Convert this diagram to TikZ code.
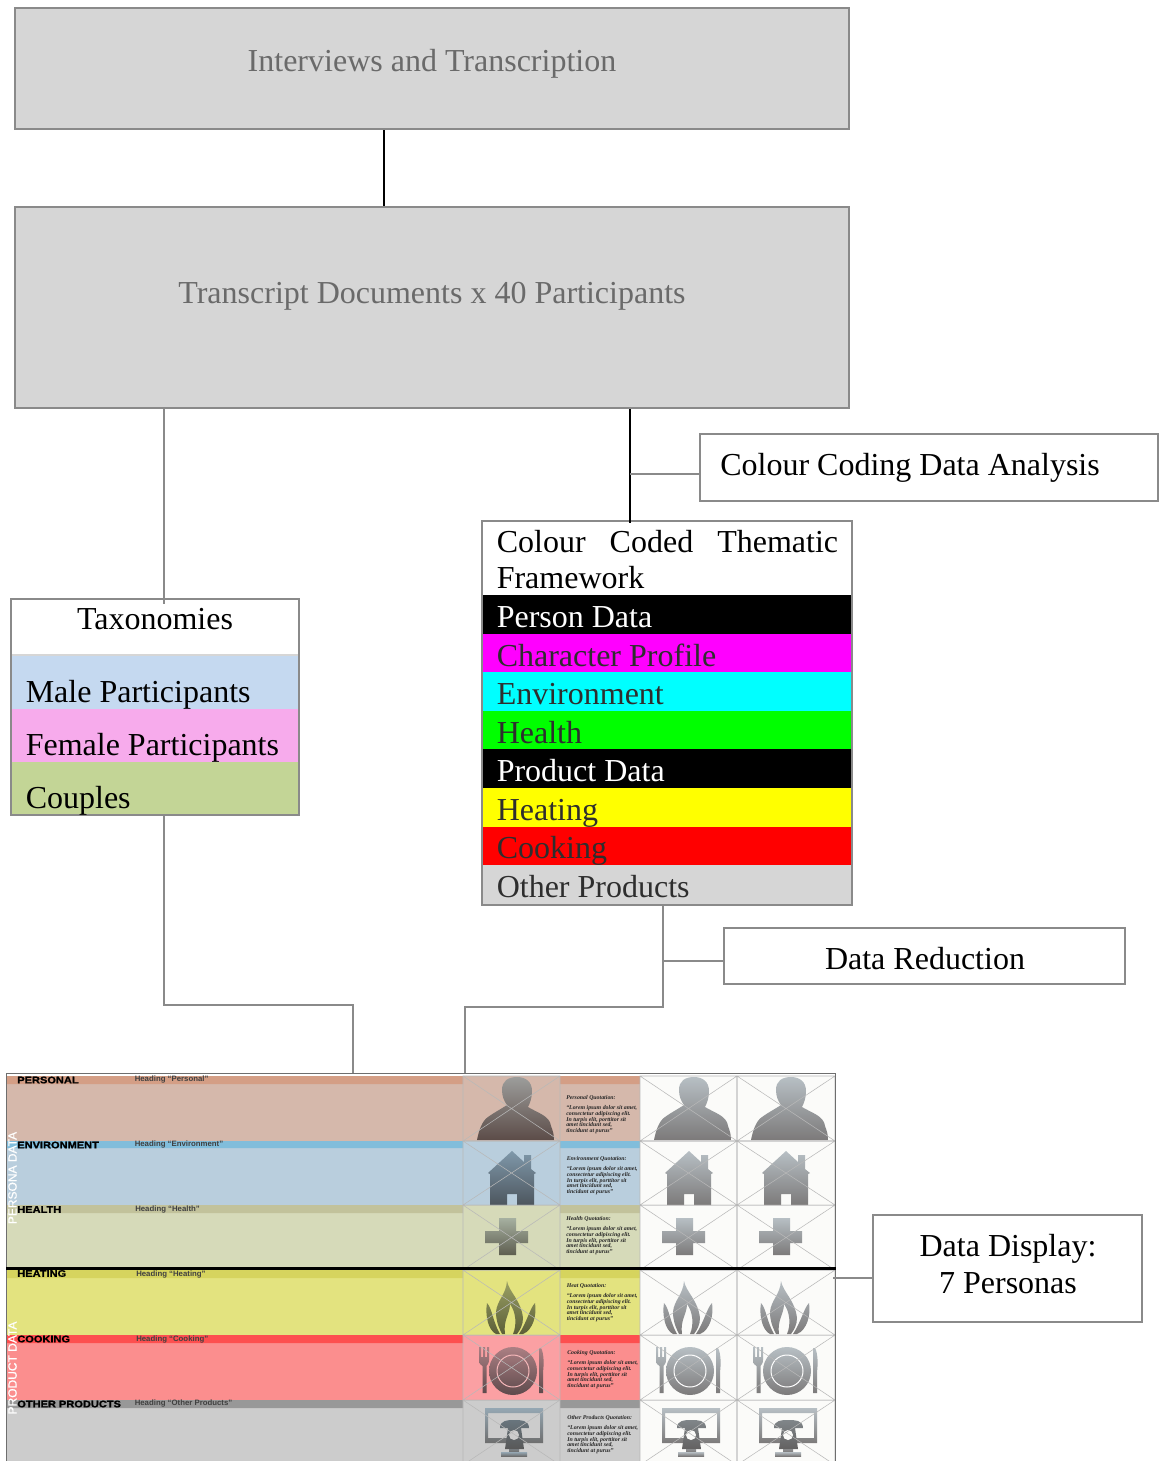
\documentclass[tikz,border=0pt]{standalone}
\usepackage{fontspec}
\setmainfont{Liberation Serif}
\newfontfamily\hsans{Liberation Sans}[BoldFeatures={FakeBold=1}]
\newfontfamily\hsansp{Liberation Sans}
\newfontfamily\hsansv{Liberation Sans}[FakeBold=0.5]
\definecolor{boxgray}{HTML}{8A8A8A}
\definecolor{fillgray}{HTML}{D6D6D6}
\definecolor{txtgray}{HTML}{6A6A6A}
\definecolor{darktxt}{HTML}{2E2E2E}
\definecolor{gridc}{HTML}{B8B8B8}
\definecolor{cellw}{HTML}{FBFBF9}
\definecolor{taxblue}{HTML}{C5D9F0}
\definecolor{taxpink}{HTML}{F7ABEC}
\definecolor{taxgreen}{HTML}{C3D596}
\definecolor{fwmag}{HTML}{FF00FF}
\definecolor{fwcyan}{HTML}{00FFFF}
\definecolor{fwgreen}{HTML}{00FF00}
\definecolor{fwyel}{HTML}{FFFF00}
\definecolor{fwred}{HTML}{FF0000}
\definecolor{bodyA}{HTML}{D5B8AB}
\definecolor{bodyB}{HTML}{B9CEDD}
\definecolor{bodyC}{HTML}{D6DAB9}
\definecolor{bodyD}{HTML}{E3E37F}
\definecolor{bodyE}{HTML}{FB8E8E}
\definecolor{bodyF}{HTML}{CCCCCC}
\definecolor{bodyEi}{HTML}{FBA0A3}
\definecolor{headAc}{HTML}{D49E85}
\definecolor{headBc}{HTML}{81BDDB}
\definecolor{headCc}{HTML}{C2C29B}
\definecolor{headDc}{HTML}{D6D45E}
\definecolor{headEc}{HTML}{FD4F4F}
\definecolor{headFc}{HTML}{989898}
\definecolor{frameC}{HTML}{6E6E6E}
\definecolor{iwT}{HTML}{B7BFC4}
\definecolor{iwB}{HTML}{7C7A7A}
\definecolor{i1T}{HTML}{9C9D9B}
\definecolor{i1B}{HTML}{5C4C48}
\definecolor{i2T}{HTML}{7F98AA}
\definecolor{i2B}{HTML}{4D565E}
\definecolor{i3T}{HTML}{A6B0A0}
\definecolor{i3B}{HTML}{5E5E50}
\definecolor{i4T}{HTML}{9AA064}
\definecolor{i4B}{HTML}{5C5F38}
\definecolor{i5T}{HTML}{AB7F83}
\definecolor{i5B}{HTML}{5E4A4C}
\definecolor{i5R}{HTML}{F6B8BA}
\definecolor{i6T}{HTML}{95A7B3}
\definecolor{i6B}{HTML}{6E6E6E}
\tikzset{
  x=0.75pt,y=-0.75pt,
  topbox/.style={draw=boxgray,fill=fillgray,line width=1.5pt,inner sep=0pt},
  whitebox/.style={draw=boxgray,fill=white,line width=1.5pt,inner sep=0pt},
  framebox/.style={draw=boxgray,line width=1.5pt,inner sep=0pt},
  bigtxt/.style={font=\fontsize{24pt}{28pt}\selectfont,inner sep=0pt,text=black},
  rowtxt/.style={bigtxt,anchor=base west},
  graylink/.style={draw=boxgray,line width=1.5pt},
  darklink/.style={draw=black,line width=1.5pt},
  headA/.style={font=\hsans\bfseries\fontsize{7.2pt}{8pt}\selectfont,inner sep=0pt,anchor=west,xscale=1.15,text=black},
  headB/.style={font=\hsansp\bfseries\fontsize{5.85pt}{6pt}\selectfont,inner sep=0pt,anchor=west,text=black!75},
  vlabel/.style={font=\hsansv\fontsize{9pt}{9pt}\selectfont,inner sep=0pt,rotate=90,text=white},
  quotetxt/.style={font=\bfseries\itshape\fontsize{4.4pt}{4.3pt}\selectfont,inner sep=0pt,anchor=north west,align=left,text=black!85}
}
\newcommand{\icoPerson}[4]{\begin{scope}[shift={(#1,#2)}]
 \shade[top color=#3,bottom color=#4] (39,14) .. controls (39,5) and (45,1) .. (54,1) .. controls (63,1) and (69,6) .. (69,15) .. controls (69,22) and (67,27) .. (65,31) .. controls (75,37) and (87,40) .. (88,50) .. controls (90,55) and (91,59) .. (91,64) -- (14,64) .. controls (16,54) and (19,45) .. (25,41) .. controls (32,36) and (38,33) .. (44,29) .. controls (41,25) and (39,20) .. (39,14) -- cycle;
\end{scope}}
\newcommand{\icoHouse}[4]{\begin{scope}[shift={(#1,#2)}]
 \shade[top color=#3,bottom color=#4,even odd rule] (25,32) -- (49,10) -- (61,21) -- (61,14) -- (68,14) -- (68,28) -- (73,32) -- (71,33) -- (71,64) -- (54,64) -- (54,53) -- (44,53) -- (44,64) -- (27,64) -- (27,33) -- cycle;
\end{scope}}
\newcommand{\icoCross}[4]{\begin{scope}[shift={(#1,#2)}]
 \shade[top color=#3,bottom color=#4] (36,13) -- (53,13) -- (53,26) -- (65,26) -- (65,38) -- (53,38) -- (53,50) -- (36,50) -- (36,38) -- (22,38) -- (22,26) -- (36,26) -- cycle;
\end{scope}}
\newcommand{\icoFlame}[4]{\begin{scope}[shift={(#1,#2)}]
 \shade[top color=#3,bottom color=#4]
 (44,11) .. controls (46,22) and (58,30) .. (60,48) .. controls (60,55) and (57,60) .. (54,64) -- (50,64) .. controls (54,55) and (53,42) .. (47,34) .. controls (47,44) and (40,50) .. (42,64) -- (39,64) .. controls (35,56) and (33,50) .. (33,42) .. controls (34,30) and (43,25) .. (44,11) -- cycle
 (24,33) .. controls (29,38) and (30,52) .. (37,64) -- (33,64) .. controls (25,60) and (22,45) .. (24,33) -- cycle
 (72,33) .. controls (67,38) and (64,52) .. (56,64) -- (60,64) .. controls (70,60) and (74,45) .. (72,33) -- cycle;
\end{scope}}
\newcommand{\icoPlate}[5]{\begin{scope}[shift={(#1,#2)}]
 \shade[top color=#3,bottom color=#4] (50,36) circle[radius=24];
 \draw[#5,line width=0.75pt] (50,36) circle[radius=16];
 \shade[top color=#3,bottom color=#4] (16,12) -- (18,12) -- (18,22) -- (20,22) -- (20,12) -- (22,12) -- (22,22) -- (24,22) -- (24,12) -- (26,12) -- (26,25) .. controls (26,29) and (24,30) .. (23.5,31) -- (23.5,58) -- (19.5,58) -- (19.5,31) .. controls (18,30) and (16,29) .. (16,25) -- cycle;
 \shade[top color=#3,bottom color=#4] (78,13) .. controls (81,18) and (81,30) .. (80,37) -- (80,58) -- (76,58) -- (76,13) -- cycle;
\end{scope}}
\newcommand{\icoPhone}[5]{\begin{scope}[shift={(#1,#2)}]
 \shade[top color=#3,bottom color=#4,even odd rule] (22,8) rectangle (80,43) (25,13) rectangle (77,38);
 \shade[top color=#3,bottom color=#4] (46,43) rectangle (56,52);
 \shade[top color=#3,bottom color=#4] (38,52) rectangle (64,56);
 \shade[top color=#3!70!black,bottom color=#4!80!black] (37,28) .. controls (37,20) and (45,20) .. (51,20) .. controls (58,20) and (66,20) .. (66,28) -- (58,28) -- (61,49) -- (42,49) -- (45,28) -- cycle;
 \fill[#5] (51,35) circle[radius=5];
\end{scope}}
\newcommand{\crosscell}[4]{\draw[gridc,line width=0.4pt] (#1,#3) rectangle (#2,#4) (#1,#3) -- (#2,#4) (#1,#4) -- (#2,#3);}
\newcommand{\quoteblock}[3]{\node[quotetxt] (q#3) at (#1,#2) {#3 Quotation:\\[3.4pt]\textquotedblleft Lorem ipsum dolor sit amet,\\consectetur adipiscing elit.\\In turpis elit, porttitor sit\\amet tincidunt sed,\\tincidunt at purus\textquotedblright};}
\begin{document}
\begin{tikzpicture}
\useasboundingbox (0,0) rectangle (1163,1461);
\clip (0,0) rectangle (1163,1461);
\fill[white] (0,0) rectangle (1163,1461);

% ---------- top boxes
\node[topbox,minimum width=625.5pt,minimum height=90.75pt] (interviews) at (432,68.5) {};
\node[topbox,minimum width=625.5pt,minimum height=150.75pt] (transcript) at (432,307.5) {};
\node[bigtxt,text=txtgray,anchor=base] (interviewsT) at (432,71) {Interviews and Transcription};
\node[bigtxt,text=txtgray,anchor=base] (transcriptT) at (432,303) {Transcript Documents x 40 Participants};

% ---------- taxonomies
\fill[white] (11,599) rectangle (299,654);
\fill[fillgray] (11,654) rectangle (299,656);
\fill[taxblue] (11,656) rectangle (299,709);
\fill[taxpink] (11,709) rectangle (299,762);
\fill[taxgreen] (11,762) rectangle (299,815);
\node[framebox,minimum width=216pt,minimum height=162pt] (taxon) at (155,707) {};
\node[bigtxt,anchor=base] (taxonT) at (155,629) {Taxonomies};
\node[rowtxt] (male) at (25.5,702) {Male Participants};
\node[rowtxt] (female) at (25.5,755) {Female Participants};
\node[rowtxt] (couples) at (25.5,808) {Couples};

% ---------- framework
\fill[white] (482,521) rectangle (852,595);
\fill[black] (482,595) rectangle (852,634);
\fill[fwmag] (482,634) rectangle (852,672);
\fill[fwcyan] (482,672) rectangle (852,711);
\fill[fwgreen] (482,711) rectangle (852,749);
\fill[black] (482,749) rectangle (852,788);
\fill[fwyel] (482,788) rectangle (852,827);
\fill[fwred] (482,827) rectangle (852,865);
\fill[fillgray] (482,865) rectangle (852,905);
\node[framebox,minimum width=277.5pt,minimum height=288pt] (frame) at (667,713) {};
\node[rowtxt] (fwA) at (496.5,552) {\hbox to 256pt{Colour\hfil Coded\hfil Thematic}};
\node[rowtxt] (fwB) at (496.5,588) {Framework};
\node[rowtxt,text=white] (fw1) at (496.5,627) {Person Data};
\node[rowtxt,text=darktxt] (fw2) at (496.5,666) {Character Profile};
\node[rowtxt,text=darktxt] (fw3) at (496.5,704) {Environment};
\node[rowtxt,text=darktxt] (fw4) at (496.5,743) {Health};
\node[rowtxt,text=white] (fw5) at (496.5,781) {Product Data};
\node[rowtxt,text=darktxt] (fw6) at (496.5,820) {Heating};
\node[rowtxt,text=darktxt] (fw7) at (496.5,858) {Cooking};
\node[rowtxt,text=darktxt] (fw8) at (496.5,897) {Other Products};

% ---------- side boxes
\node[whitebox,minimum width=343.5pt,minimum height=50.25pt] (coding) at (929,467.5) {};
\node[rowtxt] (codingT) at (720,475) {Colour Coding Data Analysis};
\node[whitebox,minimum width=300.75pt,minimum height=42pt] (reduction) at (924.5,956) {};
\node[bigtxt,anchor=base] (reductionT) at (925,969) {Data Reduction};
\node[whitebox,minimum width=201.75pt,minimum height=80.25pt] (displaybox) at (1007.5,1268.5) {};
\node[bigtxt,anchor=base] (displayA) at (1008,1256) {Data Display:};
\node[bigtxt,anchor=base] (displayB) at (1008,1293) {7 Personas};

% ---------- persona table
\fill[bodyA] (7,1076) rectangle (640,1141);
\fill[bodyB] (7,1141) rectangle (640,1205);
\fill[bodyC] (7,1205) rectangle (640,1268);
\fill[bodyD] (7,1268) rectangle (640,1335);
\fill[bodyE] (7,1335) rectangle (640,1400);
\fill[bodyF] (7,1400) rectangle (640,1461);
\fill[bodyEi] (463,1335) rectangle (560,1400);
\fill[headAc] (7,1076) rectangle (463,1084) (560,1076) rectangle (640,1084);
\fill[headBc] (7,1141) rectangle (463,1148) (560,1141) rectangle (640,1148);
\fill[headCc] (7,1205) rectangle (463,1213) (560,1205) rectangle (640,1213);
\fill[headDc] (7,1270) rectangle (463,1278) (560,1270) rectangle (640,1278);
\fill[headEc] (7,1335) rectangle (463,1343) (560,1335) rectangle (640,1343);
\fill[headFc] (7,1400) rectangle (463,1408) (560,1400) rectangle (640,1408);
\fill[cellw] (640,1076) rectangle (835,1461);

% icons: coloured column
\icoPerson{463}{1076}{i1T}{i1B}
\icoHouse{463}{1141}{i2T}{i2B}
\icoCross{463}{1205}{i3T}{i3B}
\icoFlame{463}{1270}{i4T}{i4B}
\icoPlate{463}{1335}{i5T}{i5B}{i5R}
\icoPhone{463}{1400}{i6T}{i6B}{bodyF}
% icons: white columns
\foreach \cx in {640,737}{
 \icoPerson{\cx}{1076}{iwT}{iwB}
 \icoHouse{\cx}{1141}{iwT}{iwB}
 \icoCross{\cx}{1205}{iwT}{iwB}
 \icoFlame{\cx}{1270}{iwT}{iwB}
 \icoPlate{\cx}{1335}{iwT}{iwB}{white}
 \icoPhone{\cx}{1400}{iwT}{iwB}{cellw}
}
% cell crosses
\foreach \ya/\yb in {1076/1141,1141/1205,1205/1270,1270/1335,1335/1400,1400/1465}{
 \crosscell{463}{560}{\ya}{\yb}
 \crosscell{640}{737}{\ya}{\yb}
 \crosscell{737}{835}{\ya}{\yb}
}
% outer frame of the table and divider
\node[draw=frameC,line width=0.75pt,inner sep=0pt,minimum width=621.75pt,minimum height=291pt,anchor=north west] (display) at (6,1073) {};
\draw[black,line width=2.25pt] (display.west |- 0,1268) -- (display.east |- 0,1268);

% headings
\node[headA] (h1) at (17,1080) {PERSONAL};
\node[headA] (h2) at (17,1145) {ENVIRONMENT};
\node[headA] (h3) at (17,1209.5) {HEALTH};
\node[headA] (h4) at (17,1273.5) {HEATING};
\node[headA] (h5) at (17,1339) {COOKING};
\node[headA] (h6) at (17,1404) {OTHER PRODUCTS};
\node[headB] (g1) at (134.5,1079.5) {Heading \textquotedblleft Personal\textquotedblright};
\node[headB] (g2) at (134.5,1144) {Heading \textquotedblleft Environment\textquotedblright};
\node[headB] (g3) at (135,1209.5) {Heading \textquotedblleft Health\textquotedblright};
\node[headB] (g4) at (136,1274) {Heading \textquotedblleft Heating\textquotedblright};
\node[headB] (g5) at (136,1339) {Heading \textquotedblleft Cooking\textquotedblright};
\node[headB] (g6) at (134.5,1403.5) {Heading \textquotedblleft Other Products\textquotedblright};
\node[vlabel] (v1) at (12.5,1178) {PERSONA DATA};
\node[vlabel] (v2) at (12.5,1368) {PRODUCT DATA};
% quotations
\quoteblock{566}{1095}{Personal}
\quoteblock{566.5}{1156}{Environment}
\quoteblock{566}{1216}{Health}
\quoteblock{566.5}{1283}{Heat}
\quoteblock{567}{1350}{Cooking}
\quoteblock{567}{1415}{Other Products}

% ---------- connectors
\coordinate (c1) at (384,0);
\coordinate (c2) at (164,0);
\coordinate (c3) at (630,0);
\coordinate (k1) at (164,1005);
\coordinate (k2) at (353,1005);
\coordinate (k3) at (663,1007);
\coordinate (k4) at (465,1007);
\coordinate (c5) at (0,474);
\coordinate (c6) at (0,961);
\coordinate (c7) at (0,1278);
\draw[darklink] (interviews.south -| c1) -- (transcript.north -| c1);
\draw[graylink,shorten >=-4.5pt] (transcript.south -| c2) -- (taxon.north -| c2);
\draw[darklink,shorten >=-2.5pt] (transcript.south -| c3) -- (frame.north -| c3);
\draw[graylink] (coding.west |- c5) -- (c3 |- c5);
\draw[graylink] (taxon.south -| k1) -- (k1) -- (k2) -- (display.north -| k2);
\draw[graylink] (frame.south -| k3) -- (k3) -- (k4) -- (display.north -| k4);
\draw[graylink] (reduction.west |- c6) -- (k3 |- c6);
\draw[graylink,shorten >=-2.5pt] (displaybox.west |- c7) -- (display.east |- c7);
\end{tikzpicture}
\end{document}
